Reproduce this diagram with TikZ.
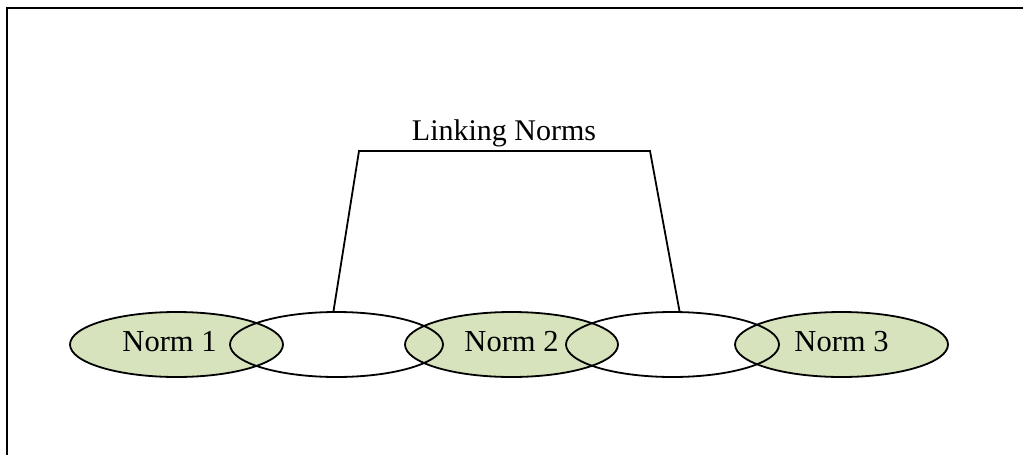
\documentclass[tikz,border=0pt]{standalone}
\usepackage{fontspec}
\setmainfont{Liberation Serif}
\usetikzlibrary{shapes.geometric}
\definecolor{normgreen}{HTML}{D6E3BC}
\begin{document}
\begin{tikzpicture}[x=1pt,y=-1pt,
  ring/.style={ellipse,draw=black,line width=1.8pt,minimum width=213pt,minimum height=65pt,inner sep=0pt,
    font=\fontsize{30.5}{36}\selectfont,text height=20.4pt,text depth=6pt},
  normring/.style={ring,fill=normgreen},
  linkline/.style={draw=black,line width=1.8pt,line join=miter},
  lbl/.style={font=\fontsize{30}{36}\selectfont,inner sep=0pt}]
\useasboundingbox (0,0) rectangle (1023,455);
\draw[line width=2.2pt] (1023,8) -- (7,8) -- (7,455);
\node[normring] (n1) at (176.5,344.5) {Norm 1\kern14pt};
\node[normring] (n2) at (511.5,344.5) {Norm 2};
\node[normring] (n3) at (841.5,344.5) {Norm 3};
\node[ring] (b1) at (336.5,344.5) {};
\node[ring] (b2) at (672.5,344.5) {};
\node[lbl,anchor=base] (lk) at (504,140) {Linking Norms};
\coordinate (tl) at (359,151);
\coordinate (tr) at (650,151);
\draw[linkline] ([xshift=-3pt]b1.north) -- (tl) -- (tr) -- ([xshift=7pt]b2.north);
\end{tikzpicture}
\end{document}
